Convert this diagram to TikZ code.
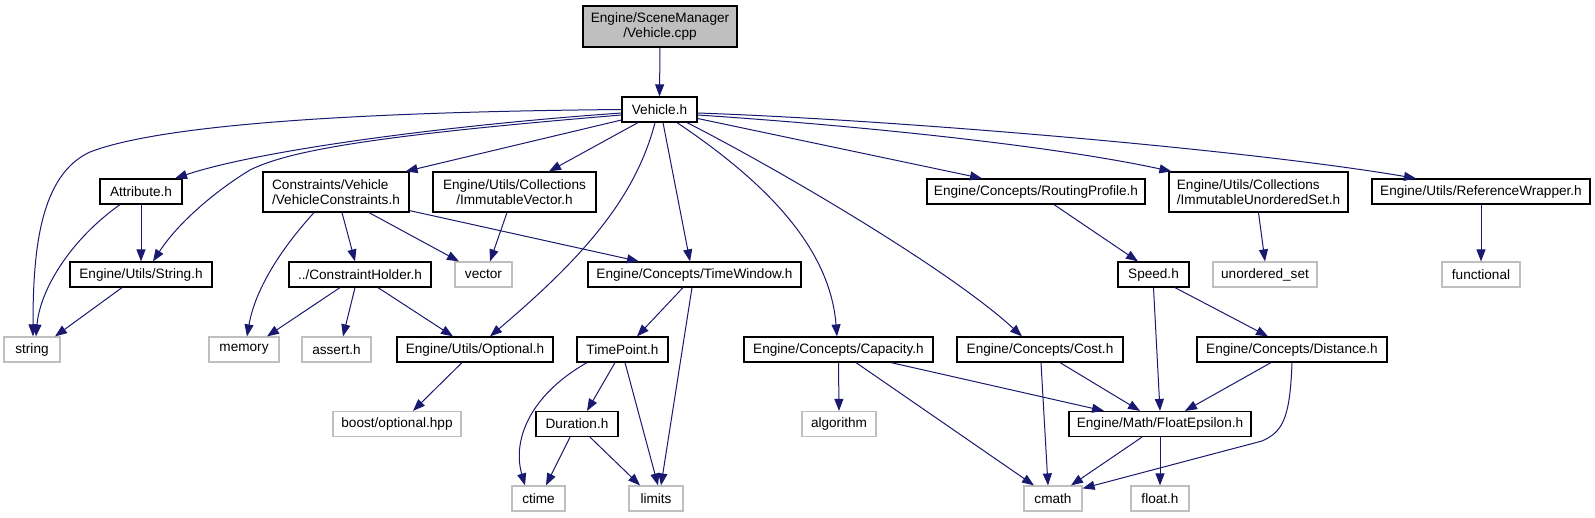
\documentclass[tikz,border=0pt]{standalone}
\usepackage{fontspec}
\setmainfont{Liberation Sans}
\usetikzlibrary{arrows.meta}
\definecolor{edgecol}{HTML}{191970}
\definecolor{sysgray}{HTML}{BFBFBF}
\newcommand\dxfont{\fontsize{13.6}{15}\selectfont}
\tikzset{
  fnode/.style={draw=black, fill=white, line width=1.2pt, inner sep=0pt, minimum height=25pt, font=\dxfont, align=center},
  snode/.style={draw=sysgray, fill=white, line width=1.2pt, inner sep=0pt, minimum height=25pt, font=\dxfont, align=center},
  rootnode/.style={fnode, fill=sysgray, minimum height=41pt},
  twoline/.style={minimum height=40pt},
  edge/.style={draw=edgecol, line width=1pt, -{Triangle[length=12pt,width=9pt]}}
}
\begin{document}
\begin{tikzpicture}[x=1pt,y=-1pt]
\useasboundingbox[fill=white] (0,0) rectangle (1595,517);
% row 0
\node[rootnode, minimum width=154pt] (root) at (660,26.5) {Engine/SceneManager\\/Vehicle.cpp};
% row 1
\node[fnode, minimum width=75pt] (vh) at (659.5,109.5) {Vehicle.h};
% row 2
\node[fnode, minimum width=82pt] (attr) at (141,191.5) {Attribute.h};
\node[fnode, twoline, minimum width=146pt, align=left] (vc) at (336,192) {Constraints/Vehicle\\/VehicleConstraints.h};
\node[fnode, twoline, minimum width=163pt] (iv) at (514.5,192) {Engine/Utils/Collections\\/ImmutableVector.h};
\node[fnode, minimum width=218pt] (rp) at (1036,191.5) {Engine/Concepts/RoutingProfile.h};
\node[fnode, twoline, minimum width=179pt, align=left] (ius) at (1258.5,192) {Engine/Utils/Collections\\/ImmutableUnorderedSet.h};
\node[fnode, minimum width=218pt] (rw) at (1481,191.5) {Engine/Utils/ReferenceWrapper.h};
% row 3
\node[fnode, minimum width=142pt] (strh) at (141,274.5) {Engine/Utils/String.h};
\node[fnode, minimum width=142pt] (ch) at (360,274.5) {../ConstraintHolder.h};
\node[snode, minimum width=57pt] (vec) at (483.5,274.5) {vector};
\node[fnode, minimum width=213pt] (tw) at (694.5,274.5) {Engine/Concepts/TimeWindow.h};
\node[fnode, minimum width=71pt] (speed) at (1153.5,274.5) {Speed.h};
\node[snode, minimum width=104pt] (us) at (1265,274.5) {unordered\_set};
\node[snode, minimum width=78pt] (func) at (1481,274.5) {functional};
% row 4
\node[snode, minimum width=56pt] (string) at (32,349.5) {string};
\node[snode, minimum width=70pt] (memory) at (244,349.5) {memory};
\node[snode, minimum width=69pt] (assert) at (336.5,349.5) {assert.h};
\node[fnode, minimum width=156pt] (opt) at (475,349.5) {Engine/Utils/Optional.h};
\node[fnode, minimum width=91pt] (tp) at (622.5,349.5) {TimePoint.h};
\node[fnode, minimum width=189pt] (cap) at (838.5,349.5) {Engine/Concepts/Capacity.h};
\node[fnode, minimum width=166pt] (cost) at (1040,349.5) {Engine/Concepts/Cost.h};
\node[fnode, minimum width=190pt] (dist) at (1292,349.5) {Engine/Concepts/Distance.h};
% row 5
\node[snode, minimum width=128pt] (boost) at (397,424) {boost/optional.hpp};
\node[fnode, minimum width=82pt] (dur) at (577,424) {Duration.h};
\node[snode, minimum width=74pt] (alg) at (839,424) {algorithm};
\node[fnode, minimum width=182pt] (fe) at (1160,424) {Engine/Math/FloatEpsilon.h};
% row 6
\node[snode, minimum width=53pt] (ctime) at (538.5,498.5) {ctime};
\node[snode, minimum width=54pt] (limits) at (656,498.5) {limits};
\node[snode, minimum width=58pt] (cmath) at (1053,498.5) {cmath};
\node[snode, minimum width=58pt] (float) at (1160,498.5) {float.h};

% edges
\draw[edge] (root.south) -- (vh.north);
\draw[edge] (vh.west) .. controls (350,112) and (160,125) .. (90,152) .. controls (40,175) and (33,250) .. ([xshift=1pt]string.north);
\draw[edge] ([yshift=-3.5pt]vh.west) .. controls (450,125) and (260,150) .. ([xshift=34pt]attr.north);
\draw[edge] ([yshift=-5.5pt]vh.west) .. controls (380,135) and (290,150) .. (250,170) .. controls (220,188) and (180,220) .. ([xshift=12pt]strh.north);
\draw[edge] ([yshift=-10.5pt]vh.west) -- ([xshift=-4pt]vc.north east);
\draw[edge] ([xshift=-21.5pt]vh.south) -- ([xshift=34.5pt]iv.north);
\draw[edge] ([xshift=-4.5pt]vh.south) .. controls (635,200) and (580,260) .. ([xshift=15pt]opt.north);
\draw[edge] ([xshift=3.5pt]vh.south) -- ([xshift=-4.5pt]tw.north);
\draw[edge] ([xshift=17.5pt]vh.south) .. controls (770,185) and (830,250) .. ([xshift=-1.5pt]cap.north);
\draw[edge] ([xshift=27.5pt]vh.south) .. controls (780,170) and (950,270) .. ([xshift=-18pt]cost.north);
\draw[edge] ([yshift=-9pt]vh.east) -- ([xshift=-54pt]rp.north);
\draw[edge] ([yshift=-5.5pt]vh.east) .. controls (850,125) and (1050,145) .. ([xshift=3pt]ius.north west);
\draw[edge] ([yshift=-3.5pt]vh.east) .. controls (900,120) and (1250,150) .. ([xshift=-65pt]rw.north);

\draw[edge] (attr.south) -- (strh.north);
\draw[edge] ([xshift=-21pt]attr.south) .. controls (70,240) and (40,290) .. ([xshift=4pt]string.north);
\draw[edge] ([xshift=-19pt]strh.south) -- ([xshift=23pt]string.north);

\draw[edge] ([xshift=-22pt]vc.south) .. controls (280,250) and (255,290) .. ([xshift=3pt]memory.north);
\draw[edge] ([xshift=6pt]vc.south) -- ([xshift=-5pt]ch.north);
\draw[edge] ([xshift=33pt]vc.south) -- ([xshift=-24.5pt]vec.north);
\draw[edge] ([yshift=2pt]vc.south east) -- ([xshift=-55.5pt]tw.north);
\draw[edge] ([xshift=-7.5pt]iv.south) -- ([xshift=6.5pt]vec.north);

\draw[edge] ([xshift=-20pt]ch.south) -- ([xshift=23pt]memory.north);
\draw[edge] ([xshift=-5pt]ch.south) -- ([xshift=6.5pt]assert.north);
\draw[edge] ([xshift=18pt]ch.south) -- ([xshift=-22pt]opt.north);
\draw[edge] ([xshift=-13pt]opt.south) -- ([xshift=16pt]boost.north);

\draw[edge] ([xshift=-11.5pt]tw.south) -- ([xshift=14.5pt]tp.north);
\draw[edge] ([xshift=-2.5pt]tw.south) -- ([xshift=5pt]limits.north);
\draw[edge] ([xshift=-35.5pt]tp.south) .. controls (530,395) and (512,440) .. ([xshift=-13.5pt]ctime.north);
\draw[edge] ([xshift=-7.5pt]tp.south) -- ([xshift=10pt]dur.north);
\draw[edge] ([xshift=2.5pt]tp.south) -- ([xshift=2pt]limits.north);
\draw[edge] ([xshift=-7pt]dur.south) -- ([xshift=7.5pt]ctime.north);
\draw[edge] ([xshift=13pt]dur.south) -- ([xshift=-16pt]limits.north);

\draw[edge] ([xshift=18pt]rp.south) -- ([xshift=-15.5pt]speed.north);
\draw[edge] (ius.south) -- (us.north);
\draw[edge] (rw.south) -- (func.north);
\draw[edge] (speed.south) -- (fe.north);
\draw[edge] ([xshift=21.5pt]speed.south) -- ([xshift=-24pt]dist.north);

\draw[edge] (cap.south) -- (alg.north);
\draw[edge] ([xshift=17.5pt]cap.south) -- ([xshift=-19pt]cmath.north);
\draw[edge] ([xshift=52.5pt]cap.south) -- ([xshift=-56pt]fe.north);
\draw[edge] ([xshift=1pt]cost.south) -- ([xshift=-5pt]cmath.north);
\draw[edge] ([xshift=20pt]cost.south) -- ([xshift=-20pt]fe.north);
\draw[edge] ([xshift=-21pt]dist.south) -- ([xshift=25pt]fe.north);
\draw[edge] (dist.south) .. controls (1290,420) and (1282,432) .. (1262,441) -- ([yshift=-3pt]cmath.north east);
\draw[edge] ([xshift=-18pt]fe.south) -- ([xshift=18pt]cmath.north);
\draw[edge] (fe.south) -- (float.north);
\end{tikzpicture}
\end{document}
